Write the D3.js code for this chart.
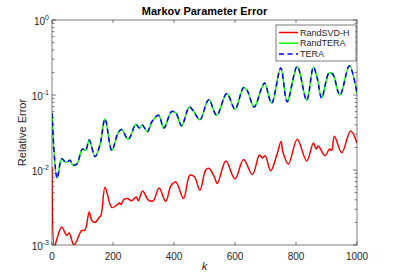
<!DOCTYPE html>
<html>
<head>
<meta charset="utf-8">
<script src="https://cdn.jsdelivr.net/npm/d3@7"></script>
<style>
  body { margin: 0; background: #fff; }
  text { font-family: "Liberation Sans", Arial, sans-serif; }
</style>
</head>
<body>
<div id="chart"></div>
<script>
// k values and errors
var teraK = [0, 17, 32, 46, 59, 68, 81, 100, 110, 122, 141, 157, 174, 196, 217, 228, 250, 275, 286, 296, 313, 327, 349, 367, 392, 406, 425, 450, 463, 485, 507, 515, 540, 573, 600, 628, 639, 663, 686, 697, 720, 750, 771, 804, 835, 857, 870, 884, 908, 920, 944, 975, 1000];
var teraErr = [0.0575, 0.00776, 0.0141, 0.0126, 0.0135, 0.0117, 0.0120, 0.0191, 0.0182, 0.0251, 0.0151, 0.0214, 0.0479, 0.0182, 0.0316, 0.0347, 0.0257, 0.0407, 0.0363, 0.0398, 0.0324, 0.0437, 0.0537, 0.0363, 0.0603, 0.0575, 0.0389, 0.0692, 0.0617, 0.0468, 0.0794, 0.0871, 0.0537, 0.105, 0.0646, 0.126, 0.117, 0.0692, 0.120, 0.145, 0.0776, 0.229, 0.0813, 0.240, 0.0851, 0.234, 0.166, 0.0912, 0.195, 0.191, 0.100, 0.245, 0.105];
// RandTERA sits on top of TERA
var randTeraErr = teraErr.slice();

var svdK = [0, 8, 15, 32, 48, 56, 72, 97, 108, 122, 130, 141, 155, 161, 174, 196, 212, 221, 226, 236, 247, 261, 276, 283, 297, 316, 332, 351, 373, 390, 406, 431, 452, 467, 485, 504, 515, 532, 542, 570, 600, 628, 657, 680, 690, 699, 717, 737, 751, 757, 775, 804, 835, 857, 866, 873, 895, 910, 917, 926, 950, 979, 1000];
var svdErr = [0.0110, 0.00095, 0.00117, 0.00174, 0.00135, 0.00145, 0.00100, 0.00155, 0.00158, 0.00275, 0.00214, 0.00200, 0.00234, 0.00251, 0.00589, 0.00316, 0.00339, 0.00363, 0.00347, 0.00407, 0.00417, 0.00389, 0.00437, 0.00389, 0.00525, 0.00398, 0.00389, 0.00575, 0.00380, 0.00617, 0.00692, 0.00417, 0.00851, 0.00813, 0.00537, 0.0100, 0.0105, 0.00813, 0.00661, 0.0132, 0.00759, 0.0138, 0.00871, 0.0158, 0.0145, 0.0155, 0.00977, 0.0158, 0.0240, 0.0174, 0.0120, 0.0257, 0.0132, 0.0229, 0.0191, 0.0209, 0.0155, 0.0191, 0.0182, 0.0282, 0.0170, 0.0331, 0.0229];

var xTicks = [0, 200, 400, 600, 800, 1000];
var yTicks = [1e-3, 1e-2, 1e-1, 1];
var yTickExp = ["-3", "-2", "-1", "0"];
var seriesNames = ["RandSVD-H", "RandTERA", "TERA"];
var seriesColors = ["#ff0000", "#00ff00", "#0000ff"];

var W = 394, H = 276;
var m = {left: 52, right: 37, top: 20, bottom: 31};
var pw = W - m.left - m.right, ph = H - m.top - m.bottom;
var axisColor = "#262626";

var svg = d3.select("#chart").append("svg").attr("width", W).attr("height", H);
var g = svg.append("g").attr("transform", "translate(" + m.left + "," + m.top + ")");

var x = d3.scaleLinear().domain([0, 1000]).range([0, pw]);
var y = d3.scaleLog().domain([1e-3, 1]).range([ph, 0]);

g.append("defs").append("clipPath").attr("id", "clip")
  .append("rect").attr("width", pw).attr("height", ph);

// minor log ticks
var minor = [];
[1e-3, 1e-2, 1e-1].forEach(function(d) {
  for (var i = 2; i <= 9; i++) minor.push(d * i);
});

var ticks = g.append("g").attr("stroke", axisColor).attr("stroke-width", 0.6);
minor.forEach(function(v) {
  ticks.append("line").attr("x1", 0).attr("x2", 2.5).attr("y1", y(v)).attr("y2", y(v));
  ticks.append("line").attr("x1", pw).attr("x2", pw - 2.5).attr("y1", y(v)).attr("y2", y(v));
});
yTicks.forEach(function(v) {
  ticks.append("line").attr("x1", 0).attr("x2", 4).attr("y1", y(v)).attr("y2", y(v));
  ticks.append("line").attr("x1", pw).attr("x2", pw - 4).attr("y1", y(v)).attr("y2", y(v));
});
xTicks.forEach(function(v) {
  ticks.append("line").attr("x1", x(v)).attr("x2", x(v)).attr("y1", ph).attr("y2", ph - 3);
  ticks.append("line").attr("x1", x(v)).attr("x2", x(v)).attr("y1", 0).attr("y2", 3);
});

// tick labels
g.selectAll(".xl").data(xTicks).join("text")
  .attr("x", function(d) { return x(d); }).attr("y", ph + 15)
  .attr("text-anchor", "middle").attr("font-size", "10px").attr("fill", axisColor)
  .text(function(d) { return d; });

var yl = g.selectAll(".yl").data(yTicks).join("text")
  .attr("x", -3).attr("y", function(d) { return y(d) + 5; })
  .attr("text-anchor", "end").attr("font-size", "10px").attr("fill", axisColor);
yl.append("tspan").text("10");
yl.append("tspan").attr("dy", -5).attr("font-size", "7px").text(function(d, i) { return yTickExp[i]; });

// lines
var line = d3.line()
  .x(function(d) { return x(d[0]); })
  .y(function(d) { return y(d[1]); })
  .curve(d3.curveCatmullRom.alpha(0.5));

var plot = g.append("g").attr("clip-path", "url(#clip)");
plot.append("path").datum(d3.zip(svdK, svdErr)).attr("d", line)
  .attr("fill", "none").attr("stroke", seriesColors[0]).attr("stroke-width", 1.5);
plot.append("path").datum(d3.zip(teraK, randTeraErr)).attr("d", line)
  .attr("fill", "none").attr("stroke", seriesColors[1]).attr("stroke-width", 1.5);
plot.append("path").datum(d3.zip(teraK, teraErr)).attr("d", line)
  .attr("fill", "none").attr("stroke", seriesColors[2]).attr("stroke-width", 1.5)
  .attr("stroke-dasharray", "5,3.5");

// box
g.append("rect").attr("width", pw).attr("height", ph)
  .attr("fill", "none").attr("stroke", axisColor).attr("stroke-width", 0.6);

// legend
var lg = g.append("g").attr("transform", "translate(" + (pw - 81) + ",5)");
lg.append("rect").attr("width", 80).attr("height", 36)
  .attr("fill", "#fff").attr("stroke", axisColor).attr("stroke-width", 0.6);
seriesNames.forEach(function(name, i) {
  var yy = 7.5 + i * 10.7;
  lg.append("line").attr("x1", 3).attr("x2", 22).attr("y1", yy).attr("y2", yy)
    .attr("stroke", seriesColors[i]).attr("stroke-width", 1.5)
    .attr("stroke-dasharray", i === 2 ? "5,3.5" : null);
  lg.append("text").attr("x", 24).attr("y", yy + 3.2)
    .attr("font-size", "9px").attr("fill", axisColor).text(name);
});

// titles
svg.append("text").attr("x", m.left + pw / 2).attr("y", 15)
  .attr("text-anchor", "middle").attr("font-size", "11px").attr("font-weight", "bold")
  .attr("fill", "#000").text("Markov Parameter Error");
svg.append("text").attr("transform", "translate(26," + (m.top + ph / 2) + ") rotate(-90)")
  .attr("text-anchor", "middle").attr("font-size", "11px").attr("fill", axisColor)
  .text("Relative Error");
svg.append("text").attr("x", m.left + pw / 2).attr("y", 270)
  .attr("text-anchor", "middle").attr("font-size", "11px").attr("font-style", "italic")
  .attr("font-family", "'Liberation Serif', 'DejaVu Serif', serif")
  .attr("fill", axisColor).text("k");
</script>
</body>
</html>
